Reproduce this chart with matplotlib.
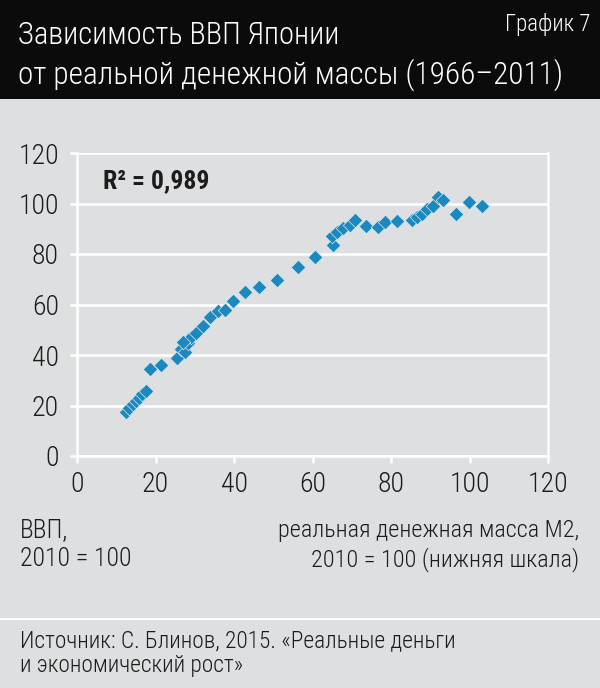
import matplotlib.pyplot as plt
from matplotlib.patches import Rectangle
from matplotlib.lines import Line2D

plt.rcParams['font.family'] = ['Roboto Condensed', 'DejaVu Sans']
plt.rcParams['font.weight'] = 300

# real money mass M2 (2010 = 100) vs GDP (2010 = 100), Japan 1966-2011
m2 = [12.5, 13.3, 14.2, 15.0, 15.8, 16.6, 17.5, 18.6, 21.3,
      25.4, 26.5, 27.5, 28.2, 29.0, 30.3, 32.0, 33.9, 35.9, 37.7,
      39.7, 42.8, 46.4, 51.0, 56.3, 60.6, 65.2, 65.0, 66.2, 67.8,
      69.6, 70.8, 73.6, 76.7, 78.5, 81.5, 85.4, 86.6, 87.9, 89.2,
      90.7, 92.0, 93.2, 96.6, 99.9, 103.2, 27.0]
gdp = [17.6, 19.0, 20.4, 21.8, 23.0, 24.4, 25.8, 34.5, 36.0,
       38.7, 42.4, 41.0, 44.6, 47.0, 48.8, 51.5, 55.2, 57.3, 58.0,
       61.2, 65.1, 67.1, 69.8, 74.9, 78.8, 83.5, 87.0, 88.6, 90.2,
       91.4, 93.3, 91.0, 90.6, 92.5, 92.9, 93.3, 94.5, 96.0, 98.0,
       99.2, 102.4, 101.2, 95.7, 100.4, 99.2, 45.0]
ticks = [0, 20, 40, 60, 80, 100, 120]

BG = '#dedfe0'
BLUE = '#1b89bf'
INK = '#1c1c1c'

fig = plt.figure(figsize=(6.0, 6.88), dpi=100)
fig.patch.set_facecolor(BG)

# header band
fig.patches.append(Rectangle((0, 1 - 99 / 688), 1, 99 / 688, transform=fig.transFigure,
                             facecolor='#0b0b0b', edgecolor='none', zorder=0))
fig.text(18 / 600, 1 - 44 / 688, 'Зависимость ВВП Японии', color='white', fontsize=22)
fig.text(18 / 600, 1 - 84 / 688, 'от реальной денежной массы (1966–2011)', color='white', fontsize=22.5)
fig.text(590 / 600, 1 - 31 / 688, 'График 7', color='white', fontsize=16.5, ha='right')

ax = fig.add_axes([77 / 600, 1 - 456 / 688, 471 / 600, 303 / 688])
ax.set_facecolor(BG)
ax.set_xlim(0, 120)
ax.set_ylim(0, 120)
ax.set_xticks(ticks)
ax.set_yticks(ticks)
ax.grid(axis='y', color='white', linewidth=1.8)
ax.set_axisbelow(True)
ax.spines['top'].set_visible(False)
for s in ['left', 'right', 'bottom']:
    ax.spines[s].set_color('white')
    ax.spines[s].set_linewidth(1.8)
ax.tick_params(axis='both', colors='white', width=1.8, length=5, labelcolor=INK, labelsize=20)
ax.tick_params(axis='x', pad=6)
ax.tick_params(axis='y', pad=8)

ax.scatter(m2, gdp, marker='D', s=55, color=BLUE, edgecolor='#d6e9f3', linewidth=0.5,
           zorder=3, clip_on=False)

fig.text(103 / 600, 1 - 188 / 688, 'R² = 0,989', color=INK, fontsize=18.5, fontweight='bold')

# axis captions
fig.text(20 / 600, 1 - 537 / 688, 'ВВП,', color=INK, fontsize=18.5)
fig.text(20 / 600, 1 - 566 / 688, '2010 = 100', color=INK, fontsize=18.5)
fig.text(579 / 600, 1 - 537 / 688, 'реальная денежная масса М2,', color=INK, fontsize=17.5, ha='right')
fig.text(579 / 600, 1 - 566 / 688, '2010 = 100 (нижняя шкала)', color=INK, fontsize=17.5, ha='right')

# footer
fig.lines.append(Line2D([0, 1], [1 - 619 / 688] * 2, transform=fig.transFigure,
                        color='white', linewidth=1.5))
fig.text(20 / 600, 1 - 648 / 688, 'Источник: С. Блинов, 2015. «Реальные деньги', color=INK, fontsize=16.8)
fig.text(20 / 600, 1 - 672 / 688, 'и экономический рост»', color=INK, fontsize=16.8)

fig.savefig('out.png', dpi=100, facecolor=fig.get_facecolor())
